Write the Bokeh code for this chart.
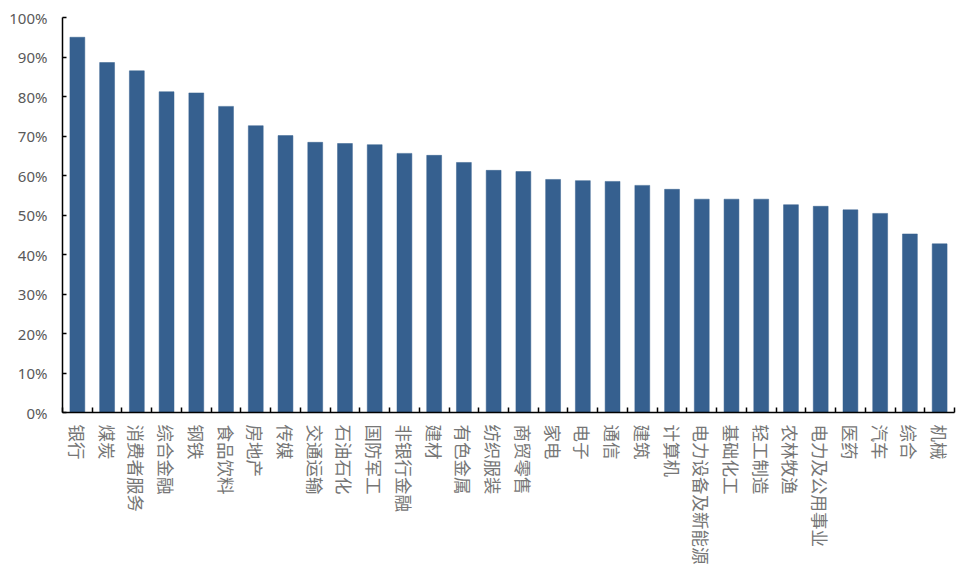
import math
from bokeh.plotting import figure
from bokeh.models import FixedTicker, NumeralTickFormatter, Range1d, ColumnDataSource
from bokeh.embed import file_html
from bokeh.resources import INLINE

categories = ["银行", "煤炭", "消费者服务", "综合金融", "钢铁", "食品饮料", "房地产", "传媒",
              "交通运输", "石油石化", "国防军工", "非银行金融", "建材", "有色金属", "纺织服装",
              "商贸零售", "家电", "电子", "通信", "建筑", "计算机", "电力设备及新能源", "基础化工",
              "轻工制造", "农林牧渔", "电力及公用事业", "医药", "汽车", "综合", "机械"]
values = [0.950, 0.886, 0.865, 0.812, 0.809, 0.775, 0.726, 0.701, 0.684, 0.681, 0.678,
          0.656, 0.651, 0.633, 0.613, 0.610, 0.590, 0.587, 0.585, 0.575, 0.565, 0.540,
          0.540, 0.540, 0.526, 0.522, 0.513, 0.504, 0.452, 0.427]
y_ticks = [0, 0.1, 0.2, 0.3, 0.4, 0.5, 0.6, 0.7, 0.8, 0.9, 1.0]

n = len(categories)
xs = [i + 0.5 for i in range(n)]
src = ColumnDataSource(dict(x=xs, top=values, cat=categories))

p = figure(frame_width=892, frame_height=395, output_backend="svg", toolbar_location=None,
           x_range=Range1d(0, n), y_range=Range1d(0, 1.0),
           min_border_left=62, min_border_top=17, min_border_right=4, min_border_bottom=0)
p.outline_line_color = None
p.background_fill_color = "white"
p.border_fill_color = "white"
p.xgrid.visible = False
p.ygrid.visible = False

p.vbar(x="x", top="top", width=0.5, bottom=0, source=src,
       fill_color="#36608F", line_color="#36608F", line_width=0.5)

# x axis
xa = p.xaxis[0]
xa.ticker = FixedTicker(ticks=xs, minor_ticks=list(range(n + 1)))
xa.major_label_overrides = {x: c for x, c in zip(xs, categories)}
xa.major_label_orientation = -math.pi / 2
xa.major_tick_in = 0
xa.major_tick_out = 0
xa.minor_tick_in = 5
xa.minor_tick_out = 0
xa.minor_tick_line_color = "black"
xa.minor_tick_line_width = 1.5
xa.axis_line_color = "black"
xa.axis_line_width = 1.5
xa.major_label_text_font = "Noto Sans CJK SC"
xa.major_label_text_font_size = "17.5px"
xa.major_label_text_color = "#767676"
xa.major_label_standoff = 12

# y axis
ya = p.yaxis[0]
ya.ticker = FixedTicker(ticks=y_ticks)
ya.formatter = NumeralTickFormatter(format="0%")
ya.minor_tick_line_color = None
ya.major_tick_in = 4
ya.major_tick_out = 0
ya.major_tick_line_color = "black"
ya.major_tick_line_width = 1.5
ya.axis_line_color = "black"
ya.axis_line_width = 1.5
ya.major_label_text_font = "Noto Sans"
ya.major_label_text_font_size = "15px"
ya.major_label_text_color = "#595959"
ya.major_label_standoff = 15

open("out.html", "w").write(file_html(p, INLINE))
